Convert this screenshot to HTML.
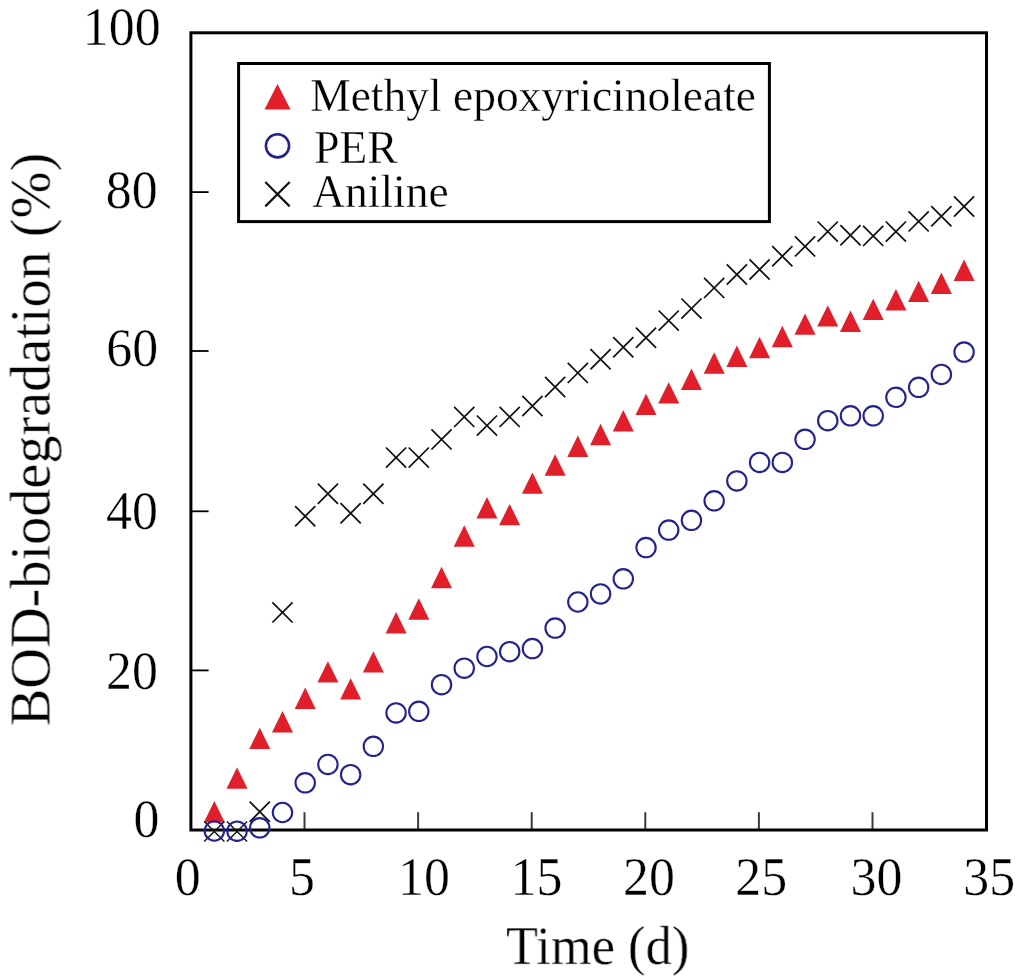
<!DOCTYPE html>
<html><head><meta charset="utf-8"><style>
html,body{margin:0;padding:0;background:#fff;}
body{width:1024px;height:980px;overflow:hidden;}
svg{display:block;will-change:transform;}
text{font-family:"Liberation Serif",serif;fill:#000;stroke:#fff;stroke-width:0.35px;}
</style></head><body>
<svg width="1024" height="980" viewBox="0 0 1024 980">
<line x1="190.9" y1="192.10" x2="208.6" y2="192.10" stroke="#000" stroke-width="1.8"/>
<line x1="190.9" y1="351.00" x2="208.6" y2="351.00" stroke="#000" stroke-width="1.8"/>
<line x1="190.9" y1="511.30" x2="208.6" y2="511.30" stroke="#000" stroke-width="1.8"/>
<line x1="190.9" y1="670.40" x2="208.6" y2="670.40" stroke="#000" stroke-width="1.8"/>
<line x1="304.50" y1="830.0" x2="304.50" y2="812.2" stroke="#3a3a3a" stroke-width="2"/>
<line x1="418.10" y1="830.0" x2="418.10" y2="812.2" stroke="#3a3a3a" stroke-width="2"/>
<line x1="531.70" y1="830.0" x2="531.70" y2="812.2" stroke="#3a3a3a" stroke-width="2"/>
<line x1="645.30" y1="830.0" x2="645.30" y2="812.2" stroke="#3a3a3a" stroke-width="2"/>
<line x1="758.90" y1="830.0" x2="758.90" y2="812.2" stroke="#3a3a3a" stroke-width="2"/>
<line x1="872.50" y1="830.0" x2="872.50" y2="812.2" stroke="#3a3a3a" stroke-width="2"/>
<rect x="190.9" y="32.8" width="795.60" height="797.20" fill="none" stroke="#000" stroke-width="3"/>
<path d="M214.32 801.00L224.82 822.40L203.82 822.40Z" fill="#e01f2b"/>
<path d="M237.04 767.30L247.54 788.70L226.54 788.70Z" fill="#e01f2b"/>
<path d="M259.76 727.70L270.26 749.10L249.26 749.10Z" fill="#e01f2b"/>
<path d="M282.48 711.10L292.98 732.50L271.98 732.50Z" fill="#e01f2b"/>
<path d="M305.20 687.50L315.70 708.90L294.70 708.90Z" fill="#e01f2b"/>
<path d="M327.92 661.20L338.42 682.60L317.42 682.60Z" fill="#e01f2b"/>
<path d="M350.64 678.20L361.14 699.60L340.14 699.60Z" fill="#e01f2b"/>
<path d="M373.36 651.20L383.86 672.60L362.86 672.60Z" fill="#e01f2b"/>
<path d="M396.08 612.00L406.58 633.40L385.58 633.40Z" fill="#e01f2b"/>
<path d="M418.80 598.30L429.30 619.70L408.30 619.70Z" fill="#e01f2b"/>
<path d="M441.52 566.80L452.02 588.20L431.02 588.20Z" fill="#e01f2b"/>
<path d="M464.24 525.30L474.74 546.70L453.74 546.70Z" fill="#e01f2b"/>
<path d="M486.96 497.10L497.46 518.50L476.46 518.50Z" fill="#e01f2b"/>
<path d="M509.68 503.90L520.18 525.30L499.18 525.30Z" fill="#e01f2b"/>
<path d="M532.40 472.40L542.90 493.80L521.90 493.80Z" fill="#e01f2b"/>
<path d="M555.12 454.30L565.62 475.70L544.62 475.70Z" fill="#e01f2b"/>
<path d="M577.84 435.50L588.34 456.90L567.34 456.90Z" fill="#e01f2b"/>
<path d="M600.56 423.80L611.06 445.20L590.06 445.20Z" fill="#e01f2b"/>
<path d="M623.28 410.00L633.78 431.40L612.78 431.40Z" fill="#e01f2b"/>
<path d="M646.00 393.70L656.50 415.10L635.50 415.10Z" fill="#e01f2b"/>
<path d="M668.72 382.20L679.22 403.60L658.22 403.60Z" fill="#e01f2b"/>
<path d="M691.44 368.50L701.94 389.90L680.94 389.90Z" fill="#e01f2b"/>
<path d="M714.16 352.30L724.66 373.70L703.66 373.70Z" fill="#e01f2b"/>
<path d="M736.88 345.60L747.38 367.00L726.38 367.00Z" fill="#e01f2b"/>
<path d="M759.60 336.80L770.10 358.20L749.10 358.20Z" fill="#e01f2b"/>
<path d="M782.32 325.80L792.82 347.20L771.82 347.20Z" fill="#e01f2b"/>
<path d="M805.04 313.40L815.54 334.80L794.54 334.80Z" fill="#e01f2b"/>
<path d="M827.76 305.20L838.26 326.60L817.26 326.60Z" fill="#e01f2b"/>
<path d="M850.48 310.60L860.98 332.00L839.98 332.00Z" fill="#e01f2b"/>
<path d="M873.20 298.70L883.70 320.10L862.70 320.10Z" fill="#e01f2b"/>
<path d="M895.92 289.00L906.42 310.40L885.42 310.40Z" fill="#e01f2b"/>
<path d="M918.64 280.70L929.14 302.10L908.14 302.10Z" fill="#e01f2b"/>
<path d="M941.36 272.50L951.86 293.90L930.86 293.90Z" fill="#e01f2b"/>
<path d="M964.08 259.60L974.58 281.00L953.58 281.00Z" fill="#e01f2b"/>
<path d="M204.22 821.40L224.42 841.60M224.42 821.40L204.22 841.60" stroke="#111" stroke-width="1.4" fill="none"/>
<path d="M226.94 821.40L247.14 841.60M247.14 821.40L226.94 841.60" stroke="#111" stroke-width="1.4" fill="none"/>
<path d="M249.66 801.60L269.86 821.80M269.86 801.60L249.66 821.80" stroke="#111" stroke-width="1.75" fill="none"/>
<path d="M272.38 602.30L292.58 622.50M292.58 602.30L272.38 622.50" stroke="#111" stroke-width="1.75" fill="none"/>
<path d="M295.10 506.10L315.30 526.30M315.30 506.10L295.10 526.30" stroke="#111" stroke-width="1.75" fill="none"/>
<path d="M317.82 483.70L338.02 503.90M338.02 483.70L317.82 503.90" stroke="#111" stroke-width="1.75" fill="none"/>
<path d="M340.54 503.20L360.74 523.40M360.74 503.20L340.54 523.40" stroke="#111" stroke-width="1.75" fill="none"/>
<path d="M363.26 483.70L383.46 503.90M383.46 483.70L363.26 503.90" stroke="#111" stroke-width="1.75" fill="none"/>
<path d="M385.98 447.50L406.18 467.70M406.18 447.50L385.98 467.70" stroke="#111" stroke-width="1.75" fill="none"/>
<path d="M408.70 447.50L428.90 467.70M428.90 447.50L408.70 467.70" stroke="#111" stroke-width="1.75" fill="none"/>
<path d="M431.42 429.30L451.62 449.50M451.62 429.30L431.42 449.50" stroke="#111" stroke-width="1.75" fill="none"/>
<path d="M454.14 406.80L474.34 427.00M474.34 406.80L454.14 427.00" stroke="#111" stroke-width="1.75" fill="none"/>
<path d="M476.86 415.50L497.06 435.70M497.06 415.50L476.86 435.70" stroke="#111" stroke-width="1.75" fill="none"/>
<path d="M499.58 406.80L519.78 427.00M519.78 406.80L499.58 427.00" stroke="#111" stroke-width="1.75" fill="none"/>
<path d="M522.30 395.90L542.50 416.10M542.50 395.90L522.30 416.10" stroke="#111" stroke-width="1.75" fill="none"/>
<path d="M545.02 376.90L565.22 397.10M565.22 376.90L545.02 397.10" stroke="#111" stroke-width="1.75" fill="none"/>
<path d="M567.74 362.80L587.94 383.00M587.94 362.80L567.74 383.00" stroke="#111" stroke-width="1.75" fill="none"/>
<path d="M590.46 349.10L610.66 369.30M610.66 349.10L590.46 369.30" stroke="#111" stroke-width="1.75" fill="none"/>
<path d="M613.18 337.10L633.38 357.30M633.38 337.10L613.18 357.30" stroke="#111" stroke-width="1.75" fill="none"/>
<path d="M635.90 327.60L656.10 347.80M656.10 327.60L635.90 347.80" stroke="#111" stroke-width="1.75" fill="none"/>
<path d="M658.62 310.50L678.82 330.70M678.82 310.50L658.62 330.70" stroke="#111" stroke-width="1.75" fill="none"/>
<path d="M681.34 298.50L701.54 318.70M701.54 298.50L681.34 318.70" stroke="#111" stroke-width="1.75" fill="none"/>
<path d="M704.06 277.80L724.26 298.00M724.26 277.80L704.06 298.00" stroke="#111" stroke-width="1.75" fill="none"/>
<path d="M726.78 264.40L746.98 284.60M746.98 264.40L726.78 284.60" stroke="#111" stroke-width="1.75" fill="none"/>
<path d="M749.50 259.40L769.70 279.60M769.70 259.40L749.50 279.60" stroke="#111" stroke-width="1.75" fill="none"/>
<path d="M772.22 246.10L792.42 266.30M792.42 246.10L772.22 266.30" stroke="#111" stroke-width="1.75" fill="none"/>
<path d="M794.94 236.30L815.14 256.50M815.14 236.30L794.94 256.50" stroke="#111" stroke-width="1.75" fill="none"/>
<path d="M817.66 221.50L837.86 241.70M837.86 221.50L817.66 241.70" stroke="#111" stroke-width="1.75" fill="none"/>
<path d="M840.38 225.10L860.58 245.30M860.58 225.10L840.38 245.30" stroke="#111" stroke-width="1.75" fill="none"/>
<path d="M863.10 225.80L883.30 246.00M883.30 225.80L863.10 246.00" stroke="#111" stroke-width="1.75" fill="none"/>
<path d="M885.82 221.50L906.02 241.70M906.02 221.50L885.82 241.70" stroke="#111" stroke-width="1.75" fill="none"/>
<path d="M908.54 211.30L928.74 231.50M928.74 211.30L908.54 231.50" stroke="#111" stroke-width="1.75" fill="none"/>
<path d="M931.26 206.20L951.46 226.40M951.46 206.20L931.26 226.40" stroke="#111" stroke-width="1.75" fill="none"/>
<path d="M953.98 196.40L974.18 216.60M974.18 196.40L953.98 216.60" stroke="#111" stroke-width="1.75" fill="none"/>
<circle cx="214.32" cy="831.00" r="9.7" fill="none" stroke="#232390" stroke-width="2.1"/>
<circle cx="237.04" cy="831.20" r="9.7" fill="none" stroke="#232390" stroke-width="2.1"/>
<circle cx="259.76" cy="827.80" r="9.7" fill="none" stroke="#232390" stroke-width="2.1"/>
<circle cx="282.48" cy="812.50" r="9.7" fill="none" stroke="#232390" stroke-width="2.1"/>
<circle cx="305.20" cy="782.80" r="9.7" fill="none" stroke="#232390" stroke-width="2.1"/>
<circle cx="327.92" cy="764.40" r="9.7" fill="none" stroke="#232390" stroke-width="2.1"/>
<circle cx="350.64" cy="774.70" r="9.7" fill="none" stroke="#232390" stroke-width="2.1"/>
<circle cx="373.36" cy="746.30" r="9.7" fill="none" stroke="#232390" stroke-width="2.1"/>
<circle cx="396.08" cy="712.90" r="9.7" fill="none" stroke="#232390" stroke-width="2.1"/>
<circle cx="418.80" cy="711.30" r="9.7" fill="none" stroke="#232390" stroke-width="2.1"/>
<circle cx="441.52" cy="684.70" r="9.7" fill="none" stroke="#232390" stroke-width="2.1"/>
<circle cx="464.24" cy="668.20" r="9.7" fill="none" stroke="#232390" stroke-width="2.1"/>
<circle cx="486.96" cy="656.50" r="9.7" fill="none" stroke="#232390" stroke-width="2.1"/>
<circle cx="509.68" cy="651.70" r="9.7" fill="none" stroke="#232390" stroke-width="2.1"/>
<circle cx="532.40" cy="648.60" r="9.7" fill="none" stroke="#232390" stroke-width="2.1"/>
<circle cx="555.12" cy="628.10" r="9.7" fill="none" stroke="#232390" stroke-width="2.1"/>
<circle cx="577.84" cy="602.00" r="9.7" fill="none" stroke="#232390" stroke-width="2.1"/>
<circle cx="600.56" cy="593.90" r="9.7" fill="none" stroke="#232390" stroke-width="2.1"/>
<circle cx="623.28" cy="578.80" r="9.7" fill="none" stroke="#232390" stroke-width="2.1"/>
<circle cx="646.00" cy="547.60" r="9.7" fill="none" stroke="#232390" stroke-width="2.1"/>
<circle cx="668.72" cy="530.10" r="9.7" fill="none" stroke="#232390" stroke-width="2.1"/>
<circle cx="691.44" cy="520.30" r="9.7" fill="none" stroke="#232390" stroke-width="2.1"/>
<circle cx="714.16" cy="500.80" r="9.7" fill="none" stroke="#232390" stroke-width="2.1"/>
<circle cx="736.88" cy="480.90" r="9.7" fill="none" stroke="#232390" stroke-width="2.1"/>
<circle cx="759.60" cy="462.40" r="9.7" fill="none" stroke="#232390" stroke-width="2.1"/>
<circle cx="782.32" cy="462.40" r="9.7" fill="none" stroke="#232390" stroke-width="2.1"/>
<circle cx="805.04" cy="439.30" r="9.7" fill="none" stroke="#232390" stroke-width="2.1"/>
<circle cx="827.76" cy="420.70" r="9.7" fill="none" stroke="#232390" stroke-width="2.1"/>
<circle cx="850.48" cy="415.80" r="9.7" fill="none" stroke="#232390" stroke-width="2.1"/>
<circle cx="873.20" cy="415.80" r="9.7" fill="none" stroke="#232390" stroke-width="2.1"/>
<circle cx="895.92" cy="397.30" r="9.7" fill="none" stroke="#232390" stroke-width="2.1"/>
<circle cx="918.64" cy="387.30" r="9.7" fill="none" stroke="#232390" stroke-width="2.1"/>
<circle cx="941.36" cy="374.40" r="9.7" fill="none" stroke="#232390" stroke-width="2.1"/>
<circle cx="964.08" cy="352.10" r="9.7" fill="none" stroke="#232390" stroke-width="2.1"/>
<rect x="238.6" y="63.5" width="530.8" height="158.1" fill="#fff" stroke="#000" stroke-width="3"/>
<path d="M277.5 84L290.5 109.6L264.5 109.6Z" fill="#e01f2b"/>
<circle cx="277.5" cy="145.8" r="11.6" fill="none" stroke="#232390" stroke-width="2.6"/>
<path d="M265.3 182.0L289.7 206.39999999999998M289.7 182.0L265.3 206.39999999999998" stroke="#111" stroke-width="2.2" fill="none"/>
<text transform="translate(310.2,110.9) scale(0.989,1)" font-size="46">Methyl epoxyricinoleate</text>
<text transform="translate(314.2,162.7) scale(0.989,1)" font-size="46">PER</text>
<text transform="translate(312.2,206.5) scale(0.989,1)" font-size="46">Aniline</text>
<text transform="translate(160.6,44.7) scale(0.96,1)" font-size="54" text-anchor="end">100</text>
<text transform="translate(157.6,208.2) scale(0.96,1)" font-size="54" text-anchor="end">80</text>
<text transform="translate(158.2,365.9) scale(0.96,1)" font-size="54" text-anchor="end">60</text>
<text transform="translate(157.9,528.7) scale(0.96,1)" font-size="54" text-anchor="end">40</text>
<text transform="translate(157.9,688.5) scale(0.96,1)" font-size="54" text-anchor="end">20</text>
<text transform="translate(159.3,836.5) scale(0.96,1)" font-size="54" text-anchor="end">0</text>
<text transform="translate(187.8,894.6) scale(0.96,1)" font-size="54" text-anchor="middle">0</text>
<text transform="translate(302,894.6) scale(0.96,1)" font-size="54" text-anchor="middle">5</text>
<text transform="translate(424,894.6) scale(0.96,1)" font-size="54" text-anchor="middle">10</text>
<text transform="translate(536.5,894.6) scale(0.96,1)" font-size="54" text-anchor="middle">15</text>
<text transform="translate(649,894.6) scale(0.96,1)" font-size="54" text-anchor="middle">20</text>
<text transform="translate(761.2,894.6) scale(0.96,1)" font-size="54" text-anchor="middle">25</text>
<text transform="translate(876.5,894.6) scale(0.96,1)" font-size="54" text-anchor="middle">30</text>
<text transform="translate(989.2,894.6) scale(0.96,1)" font-size="54" text-anchor="middle">35</text>
<text transform="translate(597.6,964.1) scale(0.955,1)" font-size="55" text-anchor="middle">Time (d)</text>
<text transform="translate(49.6,439.5) rotate(-90) scale(1.005,1)" font-size="56" text-anchor="middle">BOD-biodegradation (%)</text>
</svg>
</body></html>
